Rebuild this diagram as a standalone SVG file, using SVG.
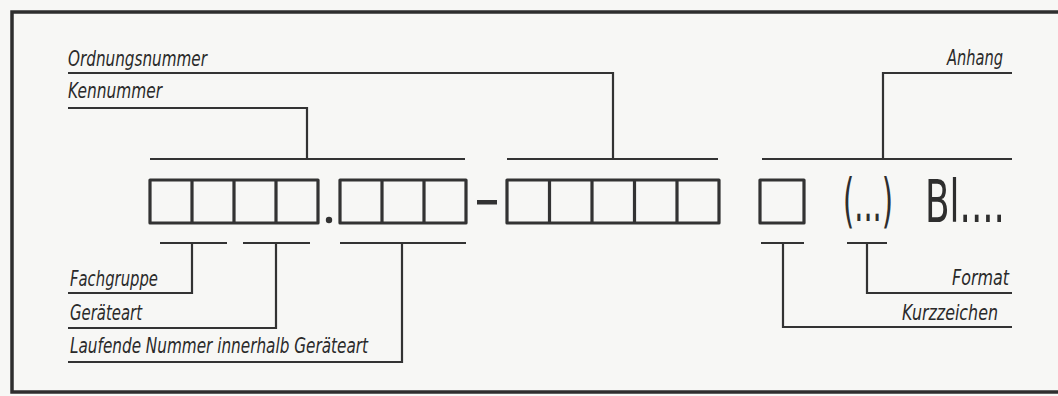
<svg xmlns="http://www.w3.org/2000/svg" width="1058" height="396" viewBox="0 0 1058 396">
<style>
.bg{fill:#f7f7f5}
.frame{fill:none;stroke:#2e2e2e;stroke-width:3.5}
.box{fill:none;stroke:#333;stroke-width:3.2;stroke-linejoin:round}
.ln{fill:none;stroke:#333;stroke-width:2.2}
.lbl{font-family:"DejaVu Sans Condensed","DejaVu Sans",sans-serif;font-style:oblique;font-size:21px;fill:#2a2a2a}
.big{font-family:"DejaVu Sans Condensed","DejaVu Sans",sans-serif;font-size:58px;fill:#2e2e2e}
</style>
<rect class="bg" x="0" y="0" width="1058" height="396"/>
<rect class="frame" x="12" y="12" width="1070" height="380"/>
<g id="group1">
<rect class="box" x="150" y="180" width="168" height="43"/>
<path class="box" d="M192 180V223M234 180V223M276 180V223"/>
</g>
<circle id="dot" cx="329" cy="220" r="3.2" fill="#333"/>
<g id="group2">
<rect class="box" x="340" y="180" width="126" height="43"/>
<path class="box" d="M382 180V223M424 180V223"/>
</g>
<rect id="dash" x="477" y="200" width="20" height="4.5" fill="#333"/>
<g id="group3">
<rect class="box" x="507" y="180" width="212" height="43"/>
<path class="box" d="M549.5 180V223M592 180V223M634.5 180V223M677 180V223"/>
</g>
<g id="box4">
<rect class="box" x="760" y="180" width="44" height="43"/>
</g>
<g id="suffix">
<text class="big" x="843" y="221" textLength="50" lengthAdjust="spacingAndGlyphs">(...)</text>
<text class="big" x="925" y="222" textLength="80" lengthAdjust="spacingAndGlyphs">Bl....</text>
</g>
<g id="connectors">
<path class="ln" d="M68 73H613V159M507 159H718"/>
<path class="ln" d="M68 108H307V159M150 159H465"/>
<path class="ln" d="M1012 73H883V159M762 159H1012"/>
<path class="ln" d="M160 243H227M192 243V293H68"/>
<path class="ln" d="M243 243H310M276 243V328H68"/>
<path class="ln" d="M340 243H466M402 243V362H68"/>
<path class="ln" d="M761 243H804M783 243V327H1012"/>
<path class="ln" d="M847 243H887M867 243V293H1012"/>
</g>
<g id="label-ordnungsnummer"><text class="lbl" x="68" y="66" textLength="139" lengthAdjust="spacingAndGlyphs">Ordnungsnummer</text></g>
<g id="label-kennummer"><text class="lbl" x="68" y="98" textLength="94" lengthAdjust="spacingAndGlyphs">Kennummer</text></g>
<g id="label-anhang"><text class="lbl" x="947" y="65" textLength="56" lengthAdjust="spacingAndGlyphs">Anhang</text></g>
<g id="label-fachgruppe"><text class="lbl" x="70" y="286" textLength="88" lengthAdjust="spacingAndGlyphs">Fachgruppe</text></g>
<g id="label-geraeteart"><text class="lbl" x="70" y="320" textLength="72" lengthAdjust="spacingAndGlyphs">Geräteart</text></g>
<g id="label-laufende"><text class="lbl" x="70" y="353" textLength="298" lengthAdjust="spacingAndGlyphs">Laufende Nummer innerhalb Geräteart</text></g>
<g id="label-format"><text class="lbl" x="952" y="285" textLength="57" lengthAdjust="spacingAndGlyphs">Format</text></g>
<g id="label-kurzzeichen"><text class="lbl" x="902" y="320" textLength="96" lengthAdjust="spacingAndGlyphs">Kurzzeichen</text></g>
</svg>
